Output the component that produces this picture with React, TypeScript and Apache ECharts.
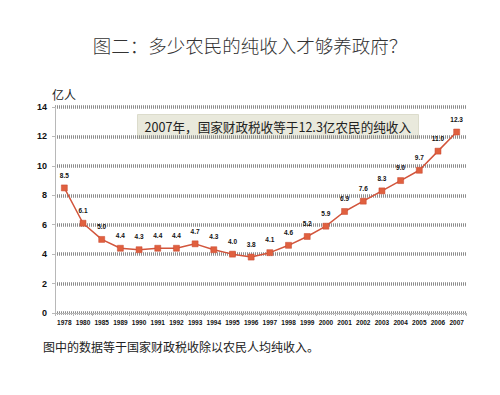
import React, { useEffect, useRef } from "react";
import * as echarts from "echarts";

const years = ["1978","1980","1985","1989","1990","1991","1992","1993","1994","1995","1996","1997","1998","1999","2000","2001","2002","2003","2004","2005","2006","2007"];
const values = [8.5, 6.1, 5.0, 4.4, 4.3, 4.4, 4.4, 4.7, 4.3, 4.0, 3.8, 4.1, 4.6, 5.2, 5.9, 6.9, 7.6, 8.3, 9.0, 9.7, 11.0, 12.3];
const titleText = "图二：多少农民的纯收入才够养政府？";
const unitText = "亿人";
const noteText = "2007年，国家财政税收等于12.3亿农民的纯收入";
const footText = "图中的数据等于国家财政税收除以农民人均纯收入。";

const FONT = "'Noto Sans CJK SC', 'Noto Sans', sans-serif";

export default function App() {
  const ref = useRef<HTMLDivElement>(null);
  useEffect(() => {
    document.body.style.margin = "0";
    const chart = echarts.init(ref.current!, null, { renderer: "svg" });
    chart.setOption({
      animation: false,
      backgroundColor: "#ffffff",
      textStyle: { fontFamily: FONT },
      grid: { left: 55, right: 34, top: 107, bottom: 82 },
      xAxis: {
        type: "category",
        data: years,
        boundaryGap: true,
        axisLine: { show: true, lineStyle: { color: "#b8b8b8", width: 1 } },
        axisTick: { show: true, length: 3, lineStyle: { color: "#b8b8b8" } },
        axisLabel: { interval: 0, fontSize: 6.5, fontWeight: "bold", color: "#111", margin: 6, fontFamily: "Arial, 'Liberation Sans', sans-serif" },
        splitLine: { show: false },
      },
      yAxis: {
        type: "value",
        min: 0,
        max: 14,
        interval: 2,
        axisLine: { show: true, lineStyle: { color: "#b8b8b8", width: 1 } },
        axisTick: { show: true, length: 3, lineStyle: { color: "#b8b8b8" } },
        axisLabel: { fontSize: 9, fontWeight: "bold", color: "#111", margin: 8, fontFamily: "Arial, 'Liberation Sans', sans-serif" },
        splitLine: { show: true, lineStyle: { color: "#8c8c8c", width: 3.5, type: [1, 1] } },
      },
      series: [
        {
          type: "line",
          data: values,
          symbol: "rect",
          symbolSize: 6,
          lineStyle: { color: "#d2553c", width: 1.5 },
          itemStyle: { color: "#e0603f", borderColor: "#c8472e", borderWidth: 0.5 },
          label: {
            show: true,
            position: "top",
            distance: 6,
            fontSize: 6.5,
            fontWeight: "bold",
            color: "#111",
            fontFamily: "Arial, 'Liberation Sans', sans-serif",
            formatter: (p: any) => Number(p.value).toFixed(1),
          },
        },
      ],
      graphic: [
        {
          type: "text",
          left: "center",
          top: 36,
          style: { text: titleText, fontSize: 18.5, fill: "#333", fontFamily: FONT, fontWeight: 300 },
        },
        {
          type: "text",
          left: 52,
          top: 88,
          style: { text: unitText, fontSize: 12, fill: "#222", fontFamily: FONT },
        },
        {
          type: "group",
          left: 137,
          top: 114,
          children: [
            { type: "rect", shape: { x: 0, y: 0, width: 281, height: 24 }, style: { fill: "#e9e9dc", stroke: "#dcdccc", lineWidth: 1 } },
            { type: "text", x: 7, y: 12, style: { text: noteText, fontSize: 12.6, fill: "#222", fontFamily: FONT, verticalAlign: "middle" } },
          ],
        },
        {
          type: "text",
          left: 43,
          top: 340,
          style: { text: footText, fontSize: 12, fill: "#222", fontFamily: FONT },
        },
      ],
    });
    return () => chart.dispose();
  }, []);
  return <div ref={ref} style={{ width: 500, height: 395 }} />;
}
